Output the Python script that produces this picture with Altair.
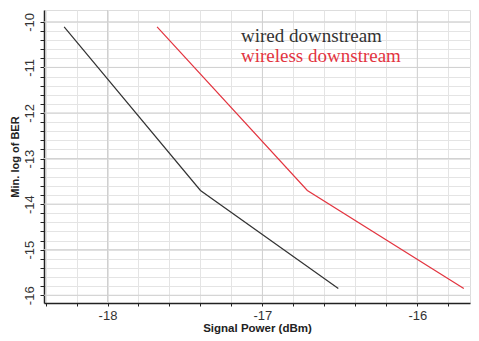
import altair as alt
import pandas as pd

# Data
wired_x = [-18.28, -17.40, -16.51]
wired_y = [-10.11, -13.70, -15.85]
wireless_x = [-17.68, -16.71, -15.70]
wireless_y = [-10.11, -13.70, -15.85]

series_names = ["wired downstream", "wireless downstream"]
series_colors = ["#333333", "#e3343f"]

x_major = [-18, -17, -16]
y_major = [-10, -11, -12, -13, -14, -15, -16]

x_domain = [-18.41, -15.66]
y_domain = [-16.17, -9.74]

x_minor = [round(-18.4 + 0.2 * i, 1) for i in range(14)]
y_minor = [round(-16.0 + 0.2 * i, 1) for i in range(31)]

rows = []
for xv, yv in zip(wired_x, wired_y):
    rows.append({"x": xv, "y": yv, "series": series_names[0]})
for xv, yv in zip(wireless_x, wireless_y):
    rows.append({"x": xv, "y": yv, "series": series_names[1]})
df = pd.DataFrame(rows)

label_expr = "abs(datum.value - round(datum.value)) < 0.01 ? toString(round(datum.value)) : ''"

xscale = alt.Scale(domain=x_domain, nice=False, zero=False)
yscale = alt.Scale(domain=y_domain, nice=False, zero=False)

xaxis = alt.Axis(values=x_minor, labelExpr=label_expr, title="Signal Power (dBm)",
                 grid=True, gridColor="#e4e4e4", domainColor="#222", domainWidth=1.5,
                 tickColor="#222", tickSize=3, labelFontSize=13, labelColor="#333",
                 labelFont="Liberation Sans", titleFont="Liberation Sans",
                 titleFontSize=11.5, titleFontWeight="bold", titleColor="#222",
                 labelPadding=3, titlePadding=0, labelFlush=False, labelOverlap=False)
yaxis = alt.Axis(values=y_minor, labelExpr=label_expr, title="Min. log of BER",
                 grid=True, gridColor="#e4e4e4", domainColor="#222", domainWidth=1.5,
                 tickColor="#222", tickSize=4, labelFontSize=13, labelColor="#333",
                 labelFont="Liberation Sans", titleFont="Liberation Sans",
                 titleFontSize=11, titleFontWeight="bold", titleColor="#222",
                 labelAngle=270, labelAlign="center", labelBaseline="bottom",
                 labelPadding=4, titlePadding=3, labelFlush=False, labelOverlap=False)

lines = alt.Chart(df).mark_line(strokeWidth=1.2).encode(
    x=alt.X("x:Q", scale=xscale, axis=xaxis),
    y=alt.Y("y:Q", scale=yscale, axis=yaxis),
    color=alt.Color("series:N", scale=alt.Scale(domain=series_names, range=series_colors), legend=None),
    detail="series:N",
)

vgrid = alt.Chart(pd.DataFrame({"v": x_major})).mark_rule(color="#d0d0d0", strokeWidth=1).encode(
    x=alt.X("v:Q", scale=xscale, axis=xaxis, title="Signal Power (dBm)")
)
hgrid = alt.Chart(pd.DataFrame({"v": y_major})).mark_rule(color="#d0d0d0", strokeWidth=1).encode(
    y=alt.Y("v:Q", scale=yscale, axis=yaxis, title="Min. log of BER")
)

t1 = alt.Chart(pd.DataFrame({"t": [series_names[0]]})).mark_text(
    align="left", baseline="middle", font="Liberation Serif", fontSize=19, color=series_colors[0]
).encode(text="t:N", x=alt.value(197), y=alt.value(26))
t2 = alt.Chart(pd.DataFrame({"t": [series_names[1]]})).mark_text(
    align="left", baseline="middle", font="Liberation Serif", fontSize=19, color=series_colors[1]
).encode(text="t:N", x=alt.value(197), y=alt.value(46))

chart = alt.layer(vgrid, hgrid, lines, t1, t2).properties(
    width=426, height=293,
    autosize=alt.AutoSizeParams(type="none"),
    padding={"left": 36, "top": 2, "right": 1, "bottom": 32},
).configure_view(stroke=None).configure(background="white")

chart.save("out.html", embed_options={"renderer": "svg", "actions": False})
